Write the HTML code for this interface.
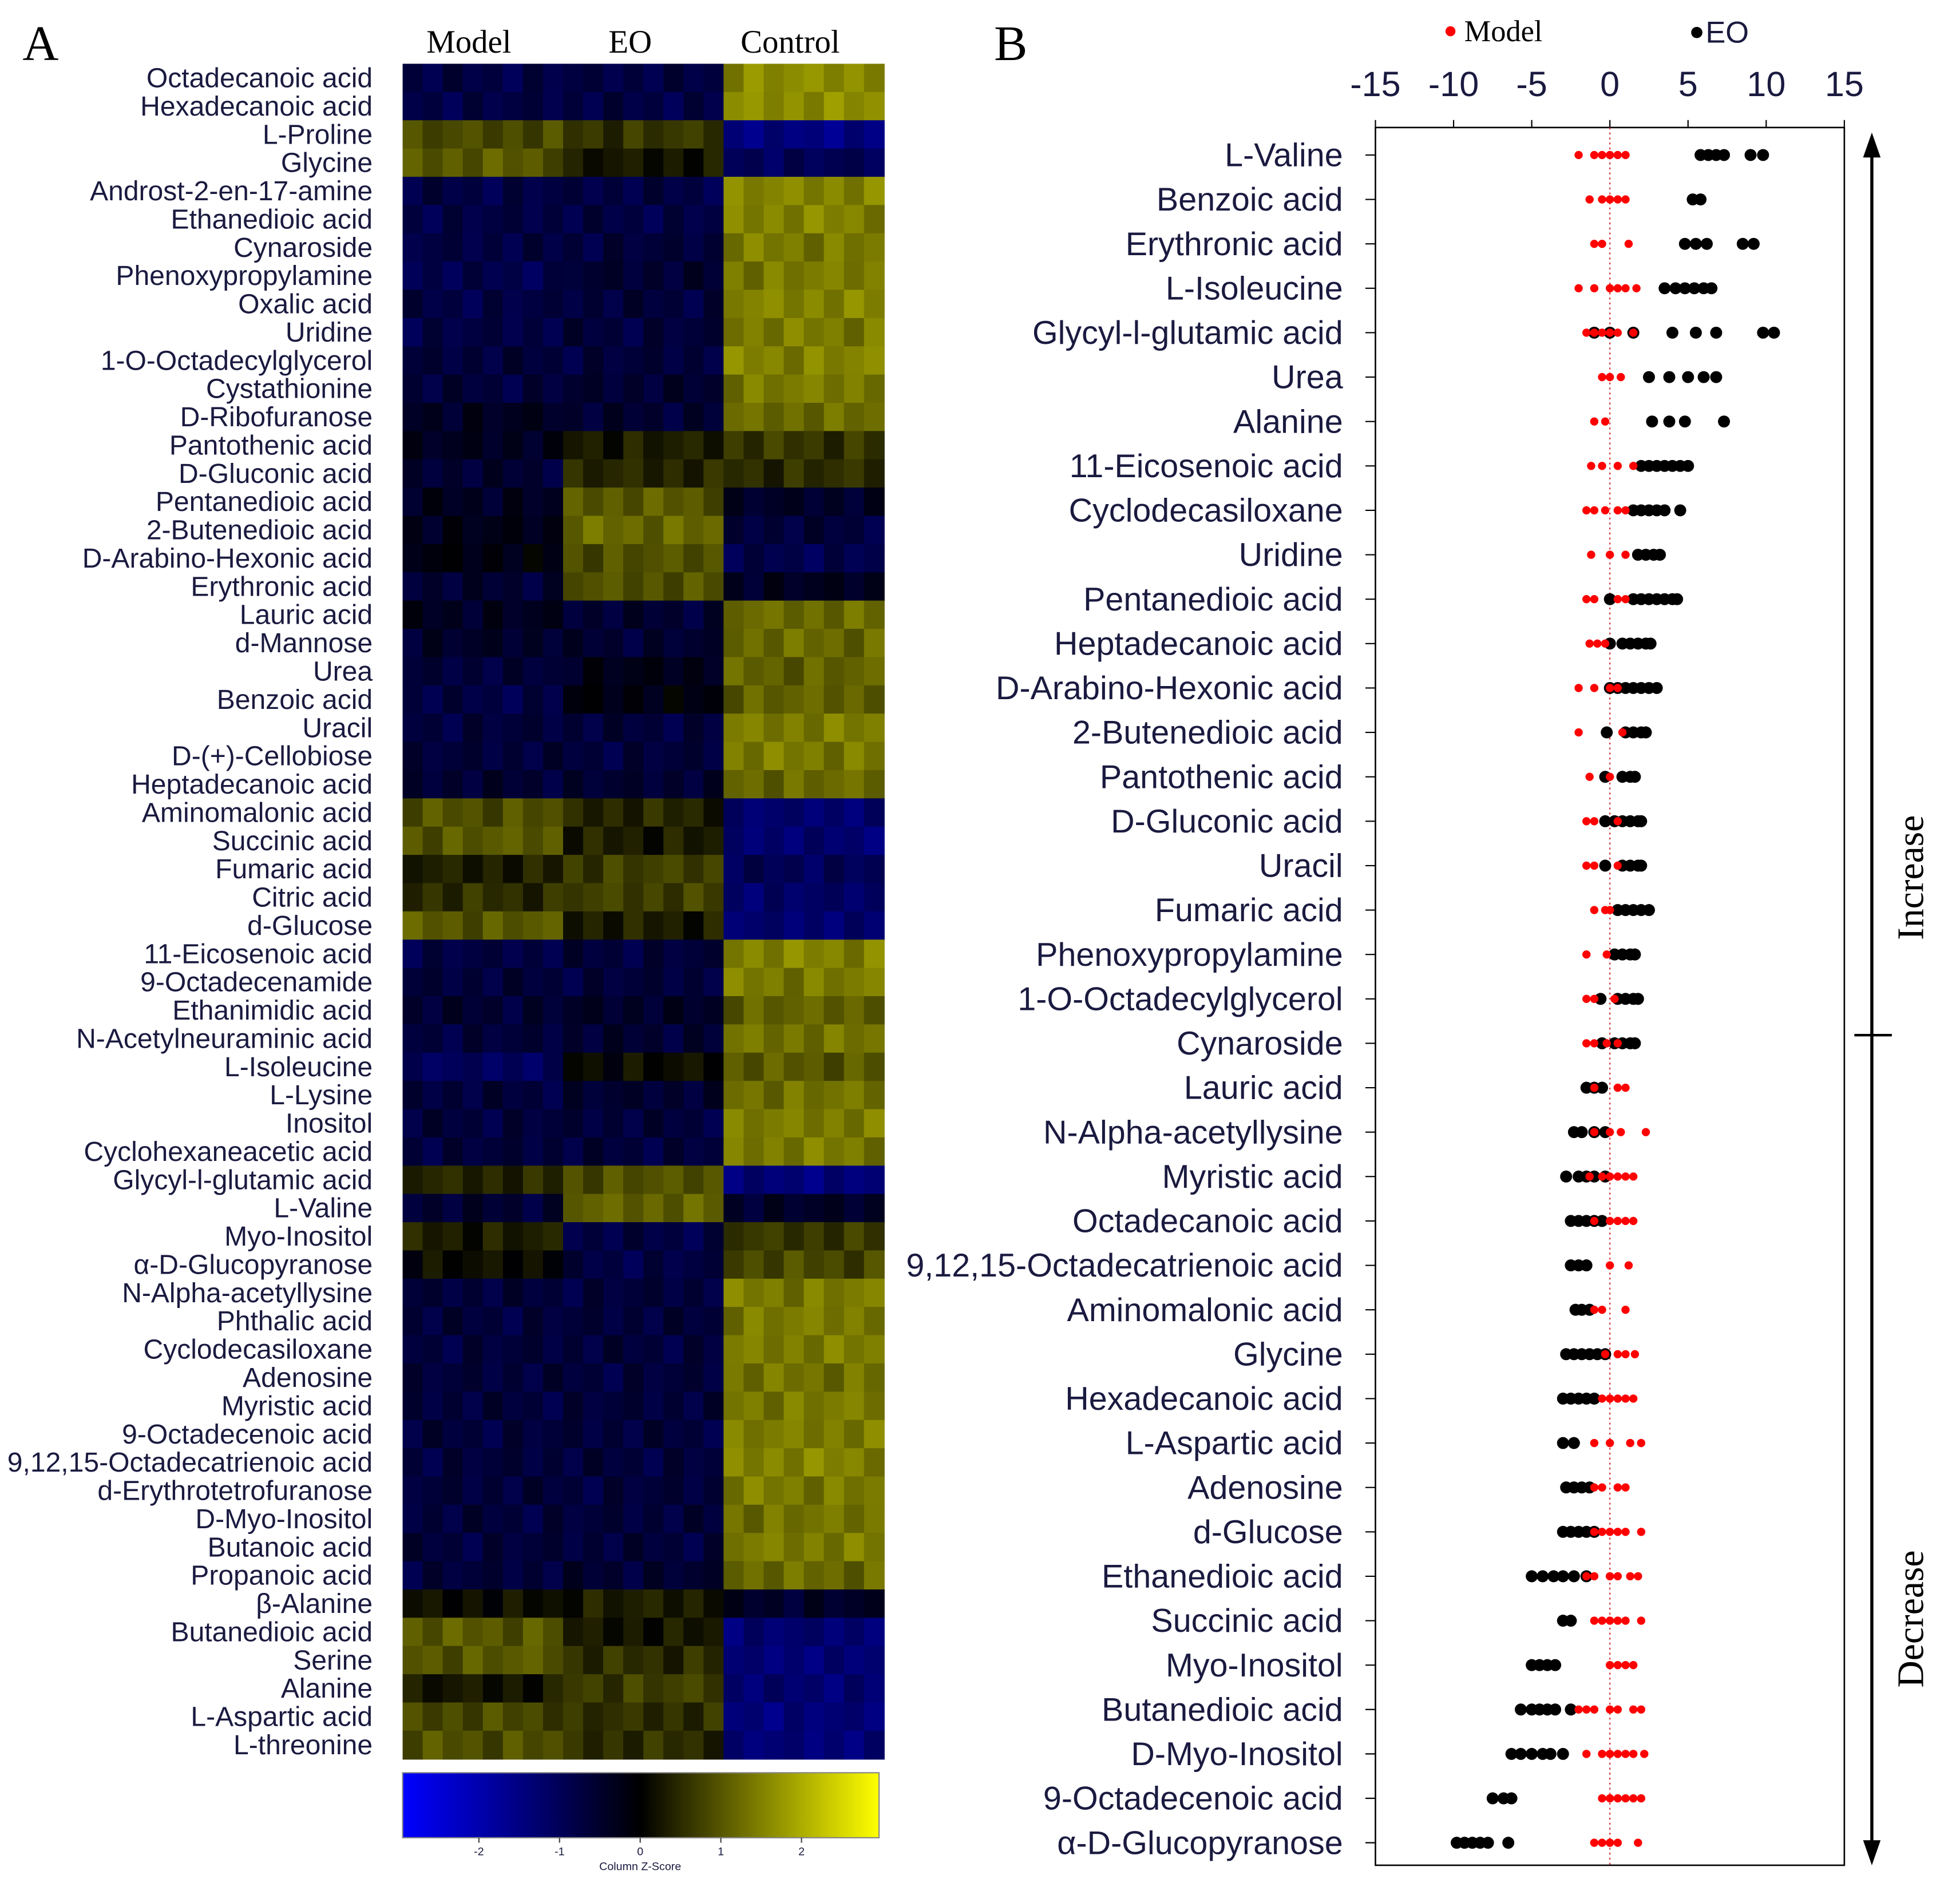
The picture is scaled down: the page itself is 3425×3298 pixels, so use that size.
<!DOCTYPE html>
<html><head><meta charset="utf-8">
<style>
html,body{margin:0;padding:0;background:#fff;}
svg{display:block;}
.lab{font-family:"Liberation Sans",sans-serif;fill:#1a1a40;}
.ser{font-family:"Liberation Serif",serif;fill:#000;}
</style></head>
<body>
<svg id="fig" width="3425" height="3298" viewBox="0 0 1567.5 1509.4" preserveAspectRatio="none" xmlns="http://www.w3.org/2000/svg">
<defs>
<linearGradient id="zg" x1="0" x2="1" y1="0" y2="0">
<stop offset="0" stop-color="#0000ff"/><stop offset="0.5" stop-color="#000000"/><stop offset="1" stop-color="#ffff00"/>
</linearGradient>
</defs>
<text class="ser" x="18" y="48" font-size="40">A</text>
<text class="ser" x="795" y="48" font-size="40">B</text>
<text class="ser" x="375" y="42" font-size="26" text-anchor="middle">Model</text>
<text class="ser" x="504" y="42" font-size="26" text-anchor="middle">EO</text>
<text class="ser" x="632" y="42" font-size="26" text-anchor="middle">Control</text>
<g id="heat"></g>
<g id="hlabels"></g>
<rect x="322" y="1418" width="381" height="52" fill="url(#zg)" stroke="#888" stroke-width="1"/>
<g id="cbticks"></g>
<text class="lab" x="512" y="1496" font-size="9" text-anchor="middle" fill="#333">Column Z-Score</text>
<g id="dot"></g>
</svg>
<script>
// ---------- Heatmap data ----------
const heatRows = ["Octadecanoic acid","Hexadecanoic acid","L-Proline","Glycine","Androst-2-en-17-amine","Ethanedioic acid","Cynaroside","Phenoxypropylamine","Oxalic acid","Uridine","1-O-Octadecylglycerol","Cystathionine","D-Ribofuranose","Pantothenic acid","D-Gluconic acid","Pentanedioic acid","2-Butenedioic acid","D-Arabino-Hexonic acid","Erythronic acid","Lauric acid","d-Mannose","Urea","Benzoic acid","Uracil","D-(+)-Cellobiose","Heptadecanoic acid","Aminomalonic acid","Succinic acid","Fumaric acid","Citric acid","d-Glucose","11-Eicosenoic acid","9-Octadecenamide","Ethanimidic acid","N-Acetylneuraminic acid","L-Isoleucine","L-Lysine","Inositol","Cyclohexaneacetic acid","Glycyl-l-glutamic acid","L-Valine","Myo-Inositol","α-D-Glucopyranose","N-Alpha-acetyllysine","Phthalic acid","Cyclodecasiloxane","Adenosine","Myristic acid","9-Octadecenoic acid","9,12,15-Octadecatrienoic acid","d-Erythrotetrofuranose","D-Myo-Inositol","Butanoic acid","Propanoic acid","β-Alanine","Butanedioic acid","Serine","Alanine","L-Aspartic acid","L-threonine"];
const modelZ = [-0.8,-0.8,0.8,1.0,-0.8,-0.8,-0.8,-0.9,-0.8,-0.8,-0.7,-0.7,-0.4,-0.4,-0.6,-0.4,-0.3,-0.2,-0.6,-0.4,-0.5,-0.7,-0.8,-0.7,-0.7,-0.6,0.9,1.0,0.3,0.5,1.0,-0.8,-0.7,-0.6,-0.7,-1.1,-0.7,-0.7,-0.7,0.4,-0.6,0.3,0.1,-0.7,-0.7,-0.7,-0.7,-0.7,-0.7,-0.7,-0.7,-0.7,-0.7,-0.7,0.1,1.0,1.0,0.2,0.8,0.9];
const eoZ = [-0.8,-0.8,0.6,0.2,-0.8,-0.8,-0.7,-0.6,-0.7,-0.7,-0.7,-0.6,-0.6,0.3,0.4,1.0,1.2,0.9,0.9,-0.6,-0.6,-0.3,-0.2,-0.7,-0.7,-0.6,0.4,0.3,0.7,0.7,0.3,-0.7,-0.7,-0.5,-0.6,0.1,-0.6,-0.7,-0.7,0.9,1.1,-0.8,-0.8,-0.7,-0.7,-0.7,-0.7,-0.7,-0.7,-0.7,-0.7,-0.7,-0.7,-0.6,0.3,0.2,0.5,0.7,0.5,0.5];
const controlZ = [1.6,1.6,-1.5,-1.0,1.5,1.5,1.4,1.4,1.5,1.4,1.5,1.4,1.2,0.6,0.5,-0.5,-0.7,-0.9,-0.4,1.2,1.2,1.1,1.1,1.4,1.4,1.2,-1.3,-1.3,-1.0,-1.2,-1.3,1.5,1.4,1.1,1.3,1.0,1.3,1.4,1.4,-1.4,-0.5,0.6,0.8,1.4,1.4,1.4,1.3,1.4,1.4,1.5,1.4,1.3,1.4,1.2,-0.5,-1.3,-1.4,-1.3,-1.4,-1.4];
const cellJitter = [0.15,-0.2,0.3,-0.05,0.1,-0.3,0.25,-0.1,0.05,0.2,-0.15];
const cbTicks = [-2,-1,0,1,2];

// ---------- Dot plot data ----------
const dotRows = ["L-Valine","Benzoic acid","Erythronic acid","L-Isoleucine","Glycyl-l-glutamic acid","Urea","Alanine","11-Eicosenoic acid","Cyclodecasiloxane","Uridine","Pentanedioic acid","Heptadecanoic acid","D-Arabino-Hexonic acid","2-Butenedioic acid","Pantothenic acid","D-Gluconic acid","Uracil","Fumaric acid","Phenoxypropylamine","1-O-Octadecylglycerol","Cynaroside","Lauric acid","N-Alpha-acetyllysine","Myristic acid","Octadecanoic acid","9,12,15-Octadecatrienoic acid","Aminomalonic acid","Glycine","Hexadecanoic acid","L-Aspartic acid","Adenosine","d-Glucose","Ethanedioic acid","Succinic acid","Myo-Inositol","Butanedioic acid","D-Myo-Inositol","9-Octadecenoic acid","α-D-Glucopyranose"];
const modelPts = [[-2,-1,-0.5,0,0.5,1],[-1.3,-0.5,0,0.5,1],[-1,-0.5,1.2],[-2,-1,0,0.5,1,1.7],[-1.5,-1,-0.5,0,0.5,1.5],[-0.5,0,0.7],[-1,-0.3],[-1.2,-0.5,0.5,1.5],[-1.5,-1,-0.3,0.5,1],[-1.2,0,1],[-1.5,-1,0.5,1],[-1.3,-0.8,-0.3],[-2,-1,0,0.5],[-2,0.8],[-1.3,0],[-1.5,-1,0.5],[-1.5,-1,0.5],[-1,-0.3,0],[-1.5,-0.2],[-1.5,-1,0.3],[-1.5,-1,-0.2,0.5],[-1,0.5,1],[-1,0,0.7,2.3],[-1.3,-0.5,0,0.5,1,1.5],[-1,0,0.5,1,1.5],[0,1.2],[-1,-0.5,1],[-0.3,0.5,1,1.6],[-0.5,0,0.5,1,1.5],[-1,0,1.3,2],[-1,-0.5,0.5,1],[-1,-0.5,0,0.5,1,2],[-1.5,-1,0,0.5,1.3,1.8],[-1,-0.5,0,0.5,1,2],[0,0.5,1,1.5],[-2,-1.5,-1,0,0.5,1.5,2],[-1.5,-0.5,0,0.5,1,1.5,2.2],[-0.5,0,0.5,1,1.5,2],[-1,-0.5,0,0.5,1.8]];
const eoPts = [[5.8,6.3,6.8,7.3,9,9.8],[5.3,5.8],[4.8,5.5,6.2,8.5,9.2],[3.5,4.2,4.8,5.4,6,6.5],[-1,0,1.5,4,5.5,6.8,9.8,10.5],[2.5,3.8,5,6,6.8],[2.7,3.8,4.8,7.3],[2,2.5,3,3.5,4,4.5,5],[1.5,2,2.5,3,3.5,4.5],[1.8,2.3,2.8,3.2],[0,1.5,2,2.5,3,3.5,4,4.3],[0,0.8,1.3,1.8,2.3,2.6],[0,0.5,1,1.5,2,2.5,3],[-0.2,1,1.5,2,2.3],[-0.3,0.8,1.3,1.6],[-0.3,0.3,0.8,1.3,1.8,2],[-0.3,0.8,1.3,1.8,2],[0.5,1,1.5,2,2.5],[0.3,0.8,1.3,1.6],[-0.6,0.5,1,1.5,1.8],[-0.5,0.3,0.8,1.3,1.6],[-1.5,-1,-0.5],[-2.3,-1.8,-1,-0.3],[-2.8,-2,-1.5,-1,-0.3],[-2.5,-2,-1.5,-1,-0.5],[-2.5,-2,-1.5],[-2.2,-1.8,-1.3],[-2.8,-2.3,-1.8,-1.3,-0.8,-0.3],[-3,-2.5,-2,-1.5,-1],[-3,-2.3],[-2.8,-2.3,-1.8,-1.3],[-3,-2.5,-2,-1.5,-1],[-5,-4.3,-3.6,-3,-2.3,-1.5],[-3,-2.5],[-5,-4.5,-4,-3.5],[-5.7,-5,-4.5,-4,-3.5,-2.5],[-6.3,-5.7,-5,-4.3,-3.8,-3],[-7.5,-6.8,-6.3],[-9.8,-9.3,-8.8,-8.3,-7.8,-6.5]];
const xTicks = [-15,-10,-5,0,5,10,15];

const NS = "http://www.w3.org/2000/svg";
function mk(tag, attrs, parent){const e=document.createElementNS(NS,tag);for(const k in attrs)e.setAttribute(k,attrs[k]);parent.appendChild(e);return e;}

// heatmap
const HX0=322,HX1=707,HY0=51,HY1=1407,NC=24;
const cw=(HX1-HX0)/NC, rh=(HY1-HY0)/heatRows.length;
function zColor(z){z=Math.max(-3,Math.min(3,z));let r,g,b;
 if(z<0){const t=-z/3;r=0;g=0;b=Math.round(255*t);} else {const t=z/3;r=Math.round(255*t);g=r;b=0;}
 return `rgb(${r},${g},${b})`;}
const heat=document.getElementById('heat'), hl=document.getElementById('hlabels');
heatRows.forEach((name,r)=>{
 const groups=[modelZ[r],eoZ[r],controlZ[r]];
 for(let c=0;c<NC;c++){
  const g=Math.floor(c/8);
  const v=groups[g]+cellJitter[(c+r*3)%cellJitter.length]*0.9;
  const rc=mk('rect',{x:HX0+c*cw,y:HY0+r*rh,width:cw+0.5,height:rh+0.5,fill:zColor(v)},heat);
  
  
 }
 const t=mk('text',{x:298,y:HY0+r*rh+rh/2+7.5,'font-size':22,'text-anchor':'end',class:'lab'},hl);
 t.textContent=name;
 
 
});
const cb=document.getElementById('cbticks');
cbTicks.forEach(v=>{
 const x=512+v*64.5;
 const l=mk('line',{x1:x,x2:x,y1:1470,y2:1474,stroke:'#444','stroke-width':1},cb);
 
 
 const t=mk('text',{x:x,y:1484,'font-size':9,'text-anchor':'middle',class:'lab',fill:'#333'},cb);
 t.textContent=v;
 
 
});

// dot plot
const dot=document.getElementById('dot');
const PX0=1100,PX1=1475,PY0=102,PY1=1492;
const xs=v=>PX0+(v+15)*(PX1-PX0)/30;
const RY0=124,RDY=(1474-124)/(dotRows.length-1);
const ys=i=>RY0+i*RDY;
const frame=mk('rect',{x:PX0,y:PY0,width:PX1-PX0,height:PY1-PY0,fill:'none',stroke:'#000','stroke-width':1.2},dot);


const zl=mk('line',{x1:xs(0),x2:xs(0),y1:PY0,y2:PY1,stroke:'#c33','stroke-width':1,'stroke-dasharray':'1.5,2.5'},dot);


xTicks.forEach(v=>{
 const l=mk('line',{x1:xs(v),x2:xs(v),y1:PY0-6,y2:PY0,stroke:'#000','stroke-width':1},dot);
 
 
 const t=mk('text',{x:xs(v),y:77,'font-size':28,'text-anchor':'middle',class:'lab',fill:'#000'},dot);
 t.textContent=v;
 
 
});
dotRows.forEach((name,i)=>{
 const y=ys(i);
 const l=mk('line',{x1:PX0-8,x2:PX0,y1:y,y2:y,stroke:'#000','stroke-width':1},dot);
 
 
 const t=mk('text',{x:1074,y:y+9,'font-size':26.3,'text-anchor':'end',class:'lab'},dot);
 t.textContent=name;
 
 
 eoPts[i].forEach(v=>{
  const c=mk('circle',{cx:xs(v),cy:y,r:4.8,fill:'#000'},dot);
  
  
 });
 modelPts[i].forEach(v=>{
  const c=mk('circle',{cx:xs(v),cy:y,r:3.3,fill:'#ff0000'},dot);
  
  
 });
});
// legend
let e;
e=mk('circle',{cx:1160,cy:25,r:4,fill:'#f00'},dot);


e=mk('text',{x:1171,y:33,'font-size':24,class:'ser'},dot); e.textContent='Model';


e=mk('circle',{cx:1357,cy:26,r:4.5,fill:'#000'},dot);


e=mk('text',{x:1364,y:34,'font-size':24,class:'lab',fill:'#000'},dot); e.textContent='EO';


// arrow
e=mk('line',{x1:1497,x2:1497,y1:118,y2:1480,stroke:'#000','stroke-width':2.5},dot);


e=mk('polygon',{points:'1497,106 1490,126 1504,126',fill:'#000'},dot);


e=mk('polygon',{points:'1497,1492 1490,1472 1504,1472',fill:'#000'},dot);


e=mk('line',{x1:1483,x2:1513,y1:828,y2:828,stroke:'#000','stroke-width':2},dot);


e=mk('text',{x:1538,y:702,'font-size':30,class:'ser','text-anchor':'middle',transform:'rotate(-90 1538 702)'},dot); e.textContent='Increase';


e=mk('text',{x:1538,y:1295,'font-size':30,class:'ser','text-anchor':'middle',transform:'rotate(-90 1538 1295)'},dot); e.textContent='Decrease';


</script>
</body></html>
